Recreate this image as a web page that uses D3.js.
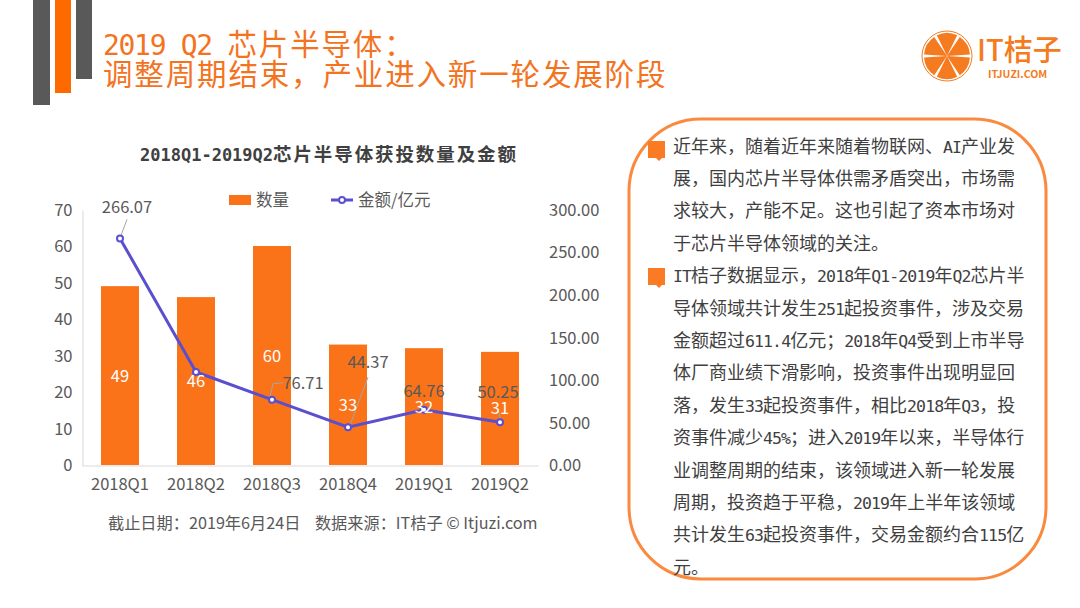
<!DOCTYPE html>
<html lang="zh-CN">
<head>
<meta charset="utf-8">
<script src="https://cdn.jsdelivr.net/npm/d3@7"></script>
<style>
    html, body { margin: 0; padding: 0; background: #fff; }
    svg { display: block; }
    text { font-family: "Noto Sans CJK SC", "Noto Sans", sans-serif; }
</style>
</head>
<body>
<div id="chartarea"></div>
<script>
const quarters = ['2018Q1', '2018Q2', '2018Q3', '2018Q4', '2019Q1', '2019Q2'];
const counts = [49, 46, 60, 33, 32, 31];
const amounts = [266.07, 109.24, 76.71, 44.37, 64.76, 50.25];
const amountLabels = ['266.07', '', '76.71', '44.37', '64.76', '50.25'];
const countTicks = [0, 10, 20, 30, 40, 50, 60, 70];
const amountTicks = [0, 50, 100, 150, 200, 250, 300];

const titleLines = ['2019 Q2 芯片半导体：', '调整周期结束，产业进入新一轮发展阶段'];
const chartTitle = '2018Q1-2019Q2芯片半导体获投数量及金额';
const legendNames = ['数量', '金额/亿元'];
const footnote = '截止日期：2019年6月24日    数据来源：IT桔子 © Itjuzi.com';
const paragraphs = [
    ['近年来，随着近年来随着物联网、AI产业发',
     '展，国内芯片半导体供需矛盾突出，市场需',
     '求较大，产能不足。这也引起了资本市场对',
     '于芯片半导体领域的关注。'],
    ['IT桔子数据显示，2018年Q1-2019年Q2芯片半',
     '导体领域共计发生251起投资事件，涉及交易',
     '金额超过611.4亿元；2018年Q4受到上市半导',
     '体厂商业绩下滑影响，投资事件出现明显回',
     '落，发生33起投资事件，相比2018年Q3，投',
     '资事件减少45%；进入2019年以来，半导体行',
     '业调整周期的结束，该领域进入新一轮发展',
     '周期，投资趋于平稳，2019年上半年该领域',
     '共计发生63起投资事件，交易金额约合115亿',
     '元。']
];

const orange = '#fb7319';
const purple = '#5a4fcf';
const grey = '#595959';

const svg = d3.select('#chartarea')
    .append('svg')
        .attr('width', 1080)
        .attr('height', 608);

// latin runs are half width, squeezed a bit so the glyphs stay tall
const mixedText = (sel, str, cjkSize, latinSize, spacing, latinSpacing) => {
    str.match(/[\x20-\x7e]+|[^\x20-\x7e]+/g).forEach(run => {
        const latin = /^[\x20-\x7e]/.test(run);
        sel.append('tspan')
            .style('white-space', 'pre')
            .attr('font-family', latin ? '"DejaVu Sans Mono", monospace' : '"Noto Sans CJK SC"')
            .attr('font-size', latin ? latinSize : cjkSize)
            .attr('letter-spacing', latin ? latinSpacing : spacing)
            .text(run);
    });
};

// header stripes
const stripes = svg.append('g');
[[33, 17, 105, '#595959'], [55, 16, 93, '#ff6a00'], [76, 16, 79, '#595959']].forEach(s => {
    stripes.append('rect')
        .attr('x', s[0]).attr('y', 0)
        .attr('width', s[1]).attr('height', s[2])
        .attr('fill', s[3]);
});

titleLines.forEach((line, i) => {
    const t = svg.append('text')
        .attr('x', 103)
        .attr('y', 54.5 + i * 30.5)
        .attr('fill', '#f3731f');
    mixedText(t, line, 29.5, 28, 1.85, -1.3);
});

// logo
const logo = svg.append('g').attr('transform', 'translate(947,56)');
logo.append('circle').attr('r', 25).attr('fill', 'none').attr('stroke', '#f47b20').attr('stroke-width', 1);
const wedge = d3.arc().innerRadius(0).outerRadius(23).padAngle(0.1).padRadius(14);
d3.range(6).forEach(i => {
    logo.append('path')
        .attr('d', wedge({ startAngle: (i * 60 - 28) * Math.PI / 180, endAngle: (i * 60 + 28) * Math.PI / 180 }))
        .attr('fill', '#f47b20');
});
svg.append('text').attr('x', 977).attr('y', 61)
    .attr('font-size', 29).attr('font-weight', 500).attr('fill', '#f47b20').text('IT桔子');
svg.append('text').attr('x', 988).attr('y', 78)
    .attr('font-size', 10.5).attr('font-weight', 700).attr('fill', '#f47b20').text('ITJUZI.COM');

// chart
const x = d3.scaleBand()
    .domain(quarters)
    .range([82, 538])
    .paddingInner(0.5)
    .paddingOuter(0.25);

const yCount = d3.scaleLinear().domain([0, 70]).range([465, 209.5]);
const yAmount = d3.scaleLinear().domain([0, 300]).range([465, 209.5]);
const cx = d => x(d) + x.bandwidth() / 2;

const chartTitleText = svg.append('text')
    .attr('x', 140).attr('y', 160.5)
    .attr('font-weight', 700)
    .attr('fill', '#404040');
mixedText(chartTitleText, chartTitle, 18.5, 17, 1.9, 0);

const styleAxis = (g) => {
    g.selectAll('text').attr('font-size', 16.5).attr('fill', grey);
    g.selectAll('.tick line').remove();
    g.select('.domain').attr('stroke', '#d9d9d9');
};

svg.append('g')
    .attr('transform', 'translate(82.5,0.5)')
    .call(d3.axisLeft(yCount).tickValues(countTicks).tickSize(0).tickPadding(10))
    .call(styleAxis);

svg.append('g')
    .attr('transform', 'translate(549,0.5)')
    .call(d3.axisRight(yAmount).tickValues(amountTicks).tickSize(0).tickPadding(0).tickFormat(d3.format('.2f')))
    .call(styleAxis)
    .call(g => g.select('.domain').remove());

svg.append('g')
    .attr('transform', 'translate(0,465.5)')
    .call(d3.axisBottom(x).tickSize(0).tickPadding(13).tickSizeOuter(0))
    .call(styleAxis);

svg.selectAll('rect.bar')
    .data(quarters)
    .enter()
    .append('rect')
        .attr('class', 'bar')
        .attr('x', d => x(d))
        .attr('y', (d, i) => yCount(counts[i]))
        .attr('width', x.bandwidth())
        .attr('height', (d, i) => yCount(0) - yCount(counts[i]))
        .attr('fill', orange);

// amount labels were dragged off their points, [dx, dy] of the text centre
const labelShift = [[7, -31], null, [31, -17], [20, -65], [0, -19], [-2, -30]];
const leaders = [
    [[7, -19], [1, -3]],
    null,
    [[11, -17], [1, -16], [-2, -3]],
    [[20, -50], [2, -2]],
    null,
    [[-1, -10], [0, -3]]
];

const leaderLine = d3.line();
leaders.forEach((pts, i) => {
    if (!pts) return;
    const px = cx(quarters[i]);
    const py = yAmount(amounts[i]);
    svg.append('path')
        .attr('d', leaderLine(pts.map(p => [px + p[0], py + p[1]])))
        .attr('fill', 'none')
        .attr('stroke', '#a6a6a6')
        .attr('stroke-width', 1);
});

const line = d3.line()
    .x(d => cx(d))
    .y((d, i) => yAmount(amounts[i]));

svg.append('path')
    .attr('d', line(quarters))
    .attr('fill', 'none')
    .attr('stroke', purple)
    .attr('stroke-width', 3);

svg.selectAll('circle.point')
    .data(quarters)
    .enter()
    .append('circle')
        .attr('class', 'point')
        .attr('cx', cx)
        .attr('cy', (d, i) => yAmount(amounts[i]))
        .attr('r', 3)
        .attr('fill', '#fff')
        .attr('stroke', purple)
        .attr('stroke-width', 2);

amountLabels.forEach((label, i) => {
    if (!label) return;
    svg.append('text')
        .attr('x', cx(quarters[i]) + labelShift[i][0])
        .attr('y', yAmount(amounts[i]) + labelShift[i][1] + 6)
        .attr('text-anchor', 'middle')
        .attr('font-size', 16.5)
        .attr('fill', grey)
        .text(label);
});

// count labels sit on top of the line in the original
svg.selectAll('text.count')
    .data(quarters)
    .enter()
    .append('text')
        .attr('class', 'count')
        .attr('x', cx)
        .attr('y', (d, i) => (yCount(counts[i]) + yCount(0)) / 2 + 6)
        .attr('text-anchor', 'middle')
        .attr('font-size', 16.5)
        .attr('fill', '#fff')
        .text((d, i) => counts[i]);

// legend
svg.append('rect')
    .attr('x', 229).attr('y', 195)
    .attr('width', 22).attr('height', 10)
    .attr('fill', orange);
svg.append('text')
    .attr('x', 256).attr('y', 206)
    .attr('font-size', 16.5).attr('fill', grey)
    .text(legendNames[0]);
svg.append('line')
    .attr('x1', 331).attr('x2', 353)
    .attr('y1', 200).attr('y2', 200)
    .attr('stroke', purple).attr('stroke-width', 3);
svg.append('circle')
    .attr('cx', 342).attr('cy', 200).attr('r', 3)
    .attr('fill', '#fff').attr('stroke', purple).attr('stroke-width', 2);
svg.append('text')
    .attr('x', 358).attr('y', 206)
    .attr('font-size', 16.5).attr('fill', grey)
    .text(legendNames[1]);

svg.append('text')
    .attr('x', 108).attr('y', 529)
    .attr('font-size', 16.2)
    .attr('fill', grey)
    .style('white-space', 'pre')
    .text(footnote);

// text panel
svg.append('rect')
    .attr('x', 629).attr('y', 119)
    .attr('width', 417).attr('height', 460)
    .attr('rx', 72).attr('ry', 72)
    .attr('fill', 'none')
    .attr('stroke', '#f98a3f')
    .attr('stroke-width', 3);

let lineNo = 0;
const bulletTops = [141, 268];
paragraphs.forEach((lines, p) => {
    svg.append('path')
        .attr('d', `M648,${bulletTops[p]}h17v17h-3l-3,3l-3,-3h-8z`)
        .attr('fill', '#fb7a24');
    lines.forEach(str => {
        const t = svg.append('text')
            .attr('x', 673)
            .attr('y', 152.5 + lineNo * 32.4)
            .attr('fill', '#3f3f3f');
        mixedText(t, str, 18, 16.5, 0, -0.9);
        lineNo += 1;
    });
});
</script>
</body>
</html>
